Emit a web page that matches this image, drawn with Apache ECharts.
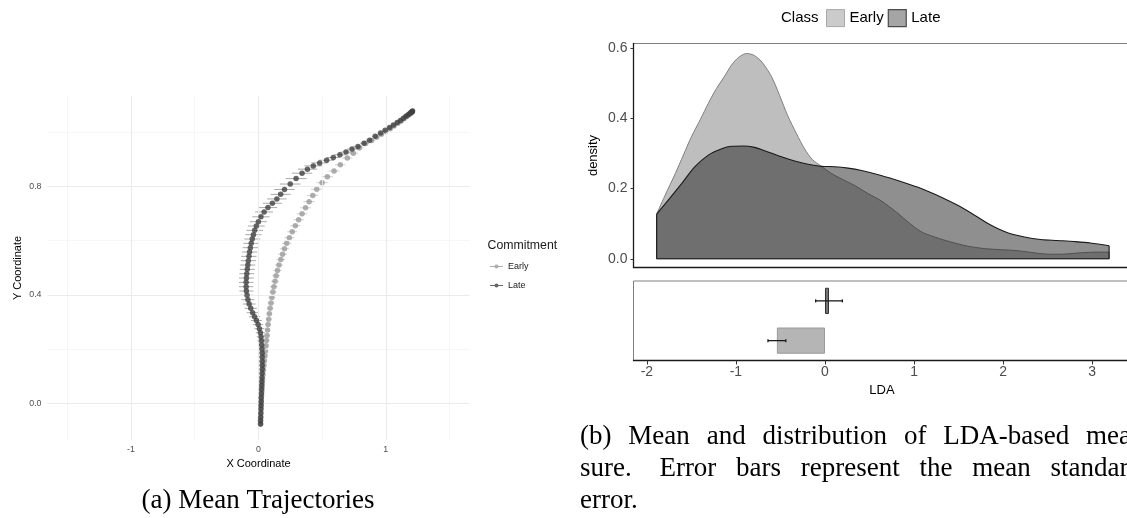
<!DOCTYPE html>
<html>
<head>
<meta charset="utf-8">
<script src="https://cdn.jsdelivr.net/npm/echarts@6/dist/echarts.min.js"></script>
<style>
  html, body { margin: 0; padding: 0; background: #fff; }
  #chart { width: 1127px; height: 518px; }
</style>
</head>
<body>
<div id="chart"></div>
<script>
// (a) mean trajectories, from start (bottom) to end (top)
const lateX = [0.017, 0.017, 0.018, 0.019, 0.020, 0.021, 0.022, 0.022, 0.024, 0.025,
  0.026, 0.027, 0.028, 0.029, 0.030, 0.030, 0.030, 0.030, 0.030, 0.028,
  0.026, 0.024, 0.021, 0.016, 0.008, -0.002, -0.015, -0.030, -0.045, -0.060,
  -0.072, -0.082, -0.089, -0.094, -0.096, -0.096, -0.094, -0.091, -0.087, -0.083,
  -0.079, -0.074, -0.069, -0.063, -0.056, -0.048, -0.039, -0.029, -0.016, 0.000,
  0.020, 0.045, 0.075, 0.110, 0.145, 0.175, 0.205, 0.250, 0.296, 0.343,
  0.385, 0.431, 0.481, 0.536, 0.588, 0.640, 0.688, 0.735, 0.782, 0.829,
  0.873, 0.917, 0.959, 0.995, 1.030, 1.060, 1.090, 1.115, 1.138, 1.158,
  1.175, 1.190, 1.200, 1.207, 1.210];
const lateY = [-0.077, -0.065, -0.052, -0.037, -0.022, -0.008, 0.005, 0.020, 0.035, 0.050,
  0.065, 0.080, 0.095, 0.110, 0.125, 0.140, 0.155, 0.170, 0.185, 0.200,
  0.215, 0.230, 0.245, 0.260, 0.275, 0.290, 0.305, 0.319, 0.334, 0.350,
  0.366, 0.382, 0.398, 0.414, 0.430, 0.446, 0.462, 0.478, 0.494, 0.510,
  0.526, 0.542, 0.558, 0.574, 0.590, 0.606, 0.622, 0.638, 0.654, 0.670,
  0.688, 0.706, 0.722, 0.738, 0.754, 0.771, 0.789, 0.809, 0.829, 0.849,
  0.864, 0.876, 0.887, 0.897, 0.907, 0.917, 0.927, 0.938, 0.948, 0.960,
  0.971, 0.985, 0.997, 1.008, 1.018, 1.027, 1.036, 1.044, 1.052, 1.059,
  1.065, 1.070, 1.074, 1.077, 1.079];
const lateSE = [0.004, 0.004, 0.005, 0.005, 0.006, 0.006, 0.007, 0.008, 0.009, 0.010,
  0.011, 0.012, 0.014, 0.016, 0.018, 0.020, 0.022, 0.024, 0.026, 0.028,
  0.030, 0.032, 0.034, 0.036, 0.038, 0.040, 0.042, 0.044, 0.046, 0.048,
  0.050, 0.052, 0.054, 0.055, 0.056, 0.057, 0.058, 0.058, 0.059, 0.059,
  0.060, 0.060, 0.061, 0.061, 0.062, 0.063, 0.064, 0.065, 0.066, 0.067,
  0.068, 0.070, 0.072, 0.074, 0.076, 0.078, 0.080, 0.082, 0.082, 0.080,
  0.076, 0.070, 0.064, 0.058, 0.052, 0.047, 0.042, 0.038, 0.034, 0.030,
  0.027, 0.024, 0.021, 0.019, 0.017, 0.015, 0.013, 0.012, 0.011, 0.010,
  0.009, 0.008, 0.007, 0.006, 0.005];

const earlyX = [0.017, 0.017, 0.018, 0.019, 0.020, 0.021, 0.023, 0.025, 0.027, 0.029,
  0.031, 0.033, 0.036, 0.040, 0.044, 0.048, 0.052, 0.056, 0.060, 0.064,
  0.068, 0.072, 0.076, 0.081, 0.086, 0.092, 0.099, 0.106, 0.114, 0.122,
  0.131, 0.139, 0.150, 0.162, 0.176, 0.190, 0.205, 0.222, 0.243, 0.266,
  0.290, 0.316, 0.343, 0.370, 0.398, 0.427, 0.458, 0.500, 0.541, 0.594,
  0.643, 0.698, 0.745, 0.792, 0.842, 0.889, 0.928, 0.965, 1.000, 1.035,
  1.065, 1.095, 1.120, 1.142, 1.162, 1.178, 1.192, 1.202, 1.208];
const earlyY = [-0.077, -0.062, -0.047, -0.032, -0.017, -0.002, 0.013, 0.028, 0.043, 0.058,
  0.073, 0.088, 0.105, 0.122, 0.139, 0.157, 0.175, 0.193, 0.212, 0.231,
  0.250, 0.270, 0.290, 0.310, 0.330, 0.350, 0.370, 0.390, 0.410, 0.430,
  0.450, 0.470, 0.490, 0.510, 0.530, 0.550, 0.570, 0.590, 0.611, 0.633,
  0.655, 0.677, 0.699, 0.721, 0.744, 0.767, 0.790, 0.814, 0.836, 0.857,
  0.880, 0.905, 0.923, 0.942, 0.959, 0.970, 0.982, 0.993, 1.003, 1.013,
  1.023, 1.033, 1.042, 1.050, 1.057, 1.063, 1.068, 1.072, 1.075];
const earlySE = [0.003, 0.003, 0.004, 0.004, 0.005, 0.005, 0.006, 0.007, 0.008, 0.009,
  0.010, 0.011, 0.012, 0.013, 0.014, 0.015, 0.016, 0.017, 0.018, 0.019,
  0.020, 0.021, 0.022, 0.023, 0.024, 0.025, 0.026, 0.027, 0.028, 0.029,
  0.030, 0.031, 0.032, 0.033, 0.034, 0.035, 0.036, 0.037, 0.038, 0.039,
  0.040, 0.041, 0.042, 0.043, 0.044, 0.045, 0.045, 0.045, 0.044, 0.043,
  0.042, 0.040, 0.037, 0.034, 0.031, 0.028, 0.025, 0.022, 0.019, 0.017,
  0.015, 0.013, 0.011, 0.010, 0.009, 0.008, 0.007, 0.006, 0.005];

const trajXMajor = [-1, 0, 1];
const trajXMinor = [-1.5, -0.5, 0.5, 1.5];
const trajYMajor = [0, 0.4, 0.8];
const trajYMinor = [0.2, 0.6, 1.0];

// (b) densities of the LDA measure
const earlyDensX = [-1.89, -1.80, -1.68, -1.59, -1.50, -1.40, -1.31, -1.22, -1.12, -1.05,
  -0.97, -0.88, -0.79, -0.70, -0.60, -0.51, -0.42, -0.32, -0.23, -0.14,
  -0.04, 0.07, 0.18, 0.33, 0.48, 0.63, 0.82, 0.93, 1.08, 1.23,
  1.41, 1.60, 1.79, 1.97, 2.16, 2.35, 2.50, 2.65, 2.87, 3.06, 3.19];
const earlyDens = [0.127, 0.178, 0.243, 0.295, 0.347, 0.396, 0.442, 0.484, 0.522, 0.551,
  0.573, 0.584, 0.578, 0.557, 0.518, 0.465, 0.408, 0.356, 0.313, 0.282,
  0.263, 0.243, 0.228, 0.209, 0.186, 0.165, 0.129, 0.105, 0.077, 0.062,
  0.048, 0.036, 0.029, 0.026, 0.023, 0.017, 0.013, 0.013, 0.017, 0.019, 0.019];
const lateDensX = [-1.89, -1.76, -1.61, -1.46, -1.31, -1.16, -1.05, -0.92, -0.79, -0.64,
  -0.49, -0.34, -0.19, -0.04, 0.11, 0.26, 0.41, 0.63, 0.86, 1.08,
  1.30, 1.49, 1.68, 1.86, 2.05, 2.24, 2.42, 2.61, 2.80, 2.98, 3.19];
const lateDens = [0.127, 0.167, 0.214, 0.262, 0.295, 0.313, 0.320, 0.321, 0.317, 0.304,
  0.290, 0.278, 0.269, 0.263, 0.262, 0.258, 0.251, 0.237, 0.219, 0.200,
  0.176, 0.152, 0.124, 0.096, 0.074, 0.062, 0.055, 0.052, 0.049, 0.045, 0.037];

const densYTicks = [0, 0.2, 0.4, 0.6];
const ldaTicks = [-2, -1, 0, 1, 2, 3];

// (b) mean LDA per class with standard error
const barCats = ['Early', 'Late'];
const barMeans = [-0.54, 0.045];
const barSE = [0.10, 0.15];

const sans = '"Liberation Sans", Arial, sans-serif';
const serifFont = '27px "Liberation Serif", "Times New Roman", serif';

const myChart = echarts.init(document.getElementById('chart'), null, { renderer: 'canvas' });

function hErr(color, cap) {
  return function (params, api) {
    const x = api.value(0), y = api.value(1), se = api.value(2);
    const a = api.coord([x - se, y]);
    const b = api.coord([x + se, y]);
    const st = { stroke: color, lineWidth: cap ? 1.3 : 1 };
    const children = [{ type: 'line', shape: { x1: a[0], y1: a[1], x2: b[0], y2: b[1] }, style: st }];
    if (cap) {
      children.push({ type: 'line', shape: { x1: a[0], y1: a[1] - cap, x2: a[0], y2: a[1] + cap }, style: st });
      children.push({ type: 'line', shape: { x1: b[0], y1: b[1] - cap, x2: b[0], y2: b[1] + cap }, style: st });
    }
    return { type: 'group', children: children };
  };
}

function edges(xs, ys) {
  const n = xs.length - 1;
  return [[xs[0], ys[0]], [xs[0], 0], [xs[n], 0], [xs[n], ys[n]]];
}

// captions are justified like the LaTeX column they come from
const measureCtx = document.createElement('canvas').getContext('2d');
function textEl(text, x, y, align) {
  return { type: 'text', x: x, y: y, silent: true,
    style: { text: text, font: serifFont, fill: '#000', align: align, verticalAlign: 'middle',
      textAlign: align, textVerticalAlign: 'middle' } };
}
function justified(words, x0, x1, y, weights) {
  measureCtx.font = serifFont;
  const widths = words.map(w => measureCtx.measureText(w).width);
  const used = widths.reduce((a, b) => a + b, 0);
  const wsum = weights.reduce((a, b) => a + b, 0);
  const unit = (x1 - x0 - used) / wsum;
  let x = x0;
  return words.map((w, i) => {
    const el = textEl(w, x, y, 'left');
    x += widths[i] + (weights[i] || 0) * unit;
    return el;
  });
}

const gridLines = [].concat(
  trajXMinor.map(v => ({ xAxis: v, lineStyle: { color: '#f2f2f2', width: 0.7, type: 'solid' } })),
  trajYMinor.map(v => ({ yAxis: v, lineStyle: { color: '#f2f2f2', width: 0.7, type: 'solid' } })),
  trajXMajor.map(v => ({ xAxis: v, lineStyle: { color: '#ebebeb', width: 1.1, type: 'solid' } })),
  trajYMajor.map(v => ({ yAxis: v, lineStyle: { color: '#ebebeb', width: 1.1, type: 'solid' } }))
);

const barColors = {
  Early: { color: '#b5b5b5', borderColor: '#9a9a9a', borderWidth: 1 },
  Late: { color: '#747474', borderColor: '#333333', borderWidth: 1 }
};

const keyIcon = 'path://M0,1.6H13V2.4H0Z M4.5,2A2,2 0 1 1 8.5,2A2,2 0 1 1 4.5,2Z';

const option = {
  animation: false,
  backgroundColor: '#ffffff',
  textStyle: { fontFamily: sans },
  title: [
    { text: 'Class', left: 781, top: 10, padding: 0,
      textStyle: { fontSize: 15, fontWeight: 'normal', color: '#000', fontFamily: sans } },
    { text: 'Commitment', left: 487.5, top: 240, padding: 0,
      textStyle: { fontSize: 12.3, fontWeight: 'normal', color: '#1a1a1a', fontFamily: sans } }
  ],
  legend: [
    {
      left: 826, top: 9, padding: 0, itemWidth: 18, itemHeight: 17, itemGap: 4,
      selectedMode: false,
      textStyle: { fontSize: 15, color: '#000', fontFamily: sans },
      data: [
        { name: 'Early', icon: 'rect', itemStyle: { color: '#bebebe', borderColor: '#999999', borderWidth: 1 } },
        { name: 'Late', icon: 'rect', itemStyle: { color: '#8e8e8e', borderColor: '#2a2a2a', borderWidth: 1.2 } }
      ]
    },
    {
      orient: 'vertical', left: 490, top: 262, padding: 0, itemWidth: 13, itemHeight: 4, itemGap: 10,
      selectedMode: false,
      textStyle: { fontSize: 9, color: '#1a1a1a', fontFamily: sans },
      data: [
        { name: 'Early', icon: keyIcon, itemStyle: { color: '#9a9a9a', borderWidth: 0 } },
        { name: 'Late', icon: keyIcon, itemStyle: { color: '#404040', borderWidth: 0 } }
      ]
    }
  ],
  grid: [
    { left: 47.5, top: 96, width: 422, height: 344, outerBoundsMode: 'none', containLabel: false },
    { left: 633.5, top: 43.5, width: 497, height: 224, show: true, borderColor: '#808080', borderWidth: 1,
      outerBoundsMode: 'none', containLabel: false },
    { left: 633.5, top: 281, width: 497, height: 79.5, show: true, borderColor: '#808080', borderWidth: 1,
      outerBoundsMode: 'none', containLabel: false }
  ],
  xAxis: [
    {
      gridIndex: 0, type: 'value', min: -1.655, max: 1.657,
      axisLine: { show: false }, axisTick: { show: false }, splitLine: { show: false },
      axisLabel: { customValues: trajXMajor, fontSize: 8.8, color: '#4d4d4d', margin: 5 },
      name: 'X Coordinate', nameLocation: 'middle', nameGap: 17,
      nameTextStyle: { fontSize: 11, color: '#000' }
    },
    {
      gridIndex: 1, type: 'value', min: -2.15, max: 3.43,
      axisLine: { show: true, onZero: false, lineStyle: { color: '#1a1a1a', width: 1.3 } },
      axisTick: { show: false }, axisLabel: { show: false }, splitLine: { show: false }
    },
    {
      gridIndex: 2, type: 'value', min: -2.15, max: 3.43,
      axisLine: { show: true, onZero: false, lineStyle: { color: '#1a1a1a', width: 1.3 } },
      axisTick: { show: true, customValues: ldaTicks, length: 4, lineStyle: { color: '#333', width: 1 } },
      axisLabel: { customValues: ldaTicks, fontSize: 14, color: '#4d4d4d', margin: 5 },
      splitLine: { show: false },
      name: 'LDA', nameLocation: 'middle', nameGap: 23,
      nameTextStyle: { fontSize: 13, color: '#000' }
    }
  ],
  yAxis: [
    {
      gridIndex: 0, type: 'value', min: -0.136, max: 1.134,
      axisLine: { show: false }, axisTick: { show: false }, splitLine: { show: false },
      axisLabel: { customValues: trajYMajor, formatter: v => v.toFixed(1), fontSize: 8.8, color: '#4d4d4d', margin: 6 },
      name: 'Y Coordinate', nameLocation: 'middle', nameGap: 24, nameRotate: 90,
      nameTextStyle: { fontSize: 11, color: '#000' }
    },
    {
      gridIndex: 1, type: 'value', min: -0.0248, max: 0.6125,
      axisLine: { show: true, onZero: false, lineStyle: { color: '#1a1a1a', width: 1.3 } },
      axisTick: { show: true, customValues: densYTicks, length: 3, lineStyle: { color: '#333' } },
      axisLabel: { customValues: densYTicks, formatter: v => v.toFixed(1), fontSize: 14, color: '#4d4d4d', margin: 6 },
      splitLine: { show: false },
      name: 'density', nameLocation: 'middle', nameGap: 34, nameRotate: 90,
      nameTextStyle: { fontSize: 13, color: '#000' }
    },
    {
      gridIndex: 2, type: 'category', data: barCats,
      axisLine: { show: false }, axisTick: { show: false }, axisLabel: { show: false }, splitLine: { show: false }
    }
  ],
  series: [
    {
      name: 'grid', type: 'scatter', xAxisIndex: 0, yAxisIndex: 0, data: [], z: 0, silent: true,
      markLine: { silent: true, symbol: ['none', 'none'], label: { show: false }, animation: false, data: gridLines }
    },
    {
      name: 'Early SE', type: 'custom', xAxisIndex: 0, yAxisIndex: 0, z: 2, silent: true,
      renderItem: hErr('#cfcfcf', 0), encode: { x: 0, y: 1 },
      data: earlyX.map((x, i) => [x, earlyY[i], earlySE[i]])
    },
    {
      name: 'Early', type: 'scatter', xAxisIndex: 0, yAxisIndex: 0, z: 3, symbolSize: 5.5,
      itemStyle: { color: '#9a9a9a' },
      data: earlyX.map((x, i) => [x, earlyY[i]])
    },
    {
      name: 'Late SE', type: 'custom', xAxisIndex: 0, yAxisIndex: 0, z: 4, silent: true,
      renderItem: hErr('#a8a8a8', 0), encode: { x: 0, y: 1 },
      data: lateX.map((x, i) => [x, lateY[i], lateSE[i]])
    },
    {
      name: 'Late', type: 'scatter', xAxisIndex: 0, yAxisIndex: 0, z: 5, symbolSize: 5.5,
      itemStyle: { color: '#404040' },
      data: lateX.map((x, i) => [x, lateY[i]])
    },
    {
      name: 'Early', type: 'line', xAxisIndex: 1, yAxisIndex: 1, z: 2, smooth: 0.3, showSymbol: false, silent: true,
      lineStyle: { color: '#7f7f7f', width: 1 },
      areaStyle: { color: '#bebebe', opacity: 1 },
      data: earlyDensX.map((x, i) => [x, earlyDens[i]])
    },
    {
      name: 'Early edge', type: 'line', xAxisIndex: 1, yAxisIndex: 1, z: 2, showSymbol: false, silent: true,
      lineStyle: { color: '#7f7f7f', width: 1 },
      data: edges(earlyDensX, earlyDens)
    },
    {
      name: 'Late', type: 'line', xAxisIndex: 1, yAxisIndex: 1, z: 3, smooth: 0.3, showSymbol: false, silent: true,
      lineStyle: { color: '#1a1a1a', width: 1.1 },
      areaStyle: { color: 'rgba(32,32,32,0.5)', opacity: 1 },
      data: lateDensX.map((x, i) => [x, lateDens[i]])
    },
    {
      name: 'Late edge', type: 'line', xAxisIndex: 1, yAxisIndex: 1, z: 3, showSymbol: false, silent: true,
      lineStyle: { color: '#1a1a1a', width: 1.1 },
      data: edges(lateDensX, lateDens)
    },
    {
      name: 'Mean', type: 'bar', xAxisIndex: 2, yAxisIndex: 2, barWidth: '66%', z: 2, silent: true,
      data: barMeans.map((m, i) => ({ value: m, itemStyle: barColors[barCats[i]] }))
    },
    {
      name: 'Mean SE', type: 'custom', xAxisIndex: 2, yAxisIndex: 2, z: 3, silent: true,
      renderItem: hErr('#1a1a1a', 1.5), encode: { x: 0, y: 1 },
      data: barMeans.map((m, i) => [m, i, barSE[i]])
    }
  ],
  graphic: [].concat(
    [textEl('(a) Mean Trajectories', 258, 501, 'center')],
    justified(['(b)', 'Mean', 'and', 'distribution', 'of', 'LDA-based', 'mea-'], 580, 1140, 437,
      [1, 1, 1, 1, 1, 1, 0]),
    justified(['sure.', 'Error', 'bars', 'represent', 'the', 'mean', 'standard'], 580, 1142, 469,
      [1.4, 1, 1, 1, 1, 1, 0]),
    [textEl('error.', 580, 501, 'left')]
  )
};

myChart.setOption(option);
</script>
</body>
</html>
